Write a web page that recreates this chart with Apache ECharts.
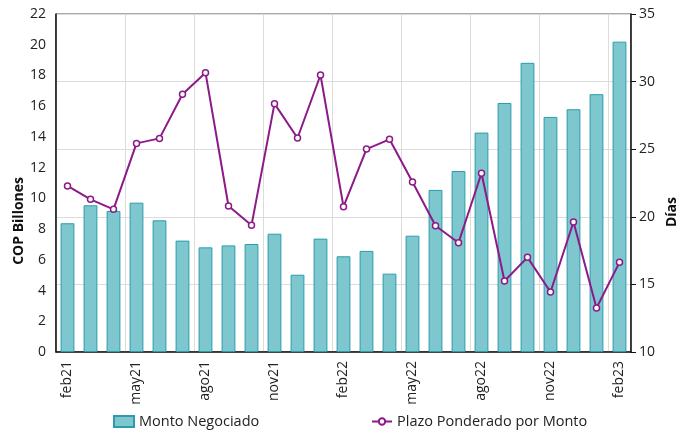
<!DOCTYPE html>
<html>
<head>
<meta charset="utf-8">
<script src="https://cdn.jsdelivr.net/npm/echarts@6/dist/echarts.min.js"></script>
<style>
  html, body { margin: 0; padding: 0; background: #fff; }
  #chart { width: 680px; height: 431px; }
</style>
</head>
<body>
<div id="chart"></div>
<script>
const months = ['feb21', 'mar21', 'abr21', 'may21', 'jun21', 'jul21', 'ago21', 'sep21', 'oct21',
  'nov21', 'dic21', 'ene22', 'feb22', 'mar22', 'abr22', 'may22', 'jun22', 'jul22', 'ago22',
  'sep22', 'oct22', 'nov22', 'dic22', 'ene23', 'feb23'];

// COP billones
const montoNegociado = [8.38, 9.55, 9.18, 9.72, 8.57, 7.25, 6.81, 6.94, 7.03, 7.70, 5.03, 7.38,
  6.23, 6.58, 5.10, 7.57, 10.55, 11.78, 14.28, 16.21, 18.82, 15.30, 15.80, 16.78, 20.20];

// días
const plazoPonderado = [22.28, 21.29, 20.55, 25.43, 25.80, 29.06, 30.66, 20.80, 19.37, 28.37,
  25.83, 30.49, 20.75, 25.01, 25.73, 22.57, 19.34, 18.08, 23.22, 15.25, 17.00, 14.44, 19.62,
  13.25, 16.63];

const font = 'Open Sans';

const chart = echarts.init(document.getElementById('chart'));
const options = {
  animation: false,
  textStyle: { fontFamily: font },
  grid: {
    left: 56,
    right: 49,
    top: 14,
    bottom: 79,
    show: true,
    borderColor: '#555',
    borderWidth: 1
  },
  legend: [
    {
      left: 108,
      bottom: -3,
      itemWidth: 20,
      itemHeight: 11,
      textStyle: { fontSize: 14.5, color: '#222', fontFamily: font },
      data: [{ name: 'Monto Negociado', icon: 'rect' }]
    },
    {
      left: 366,
      bottom: -3,
      itemWidth: 20,
      itemHeight: 8,
      textStyle: { fontSize: 14.5, color: '#222', fontFamily: font },
      data: ['Plazo Ponderado por Monto']
    }
  ],
  xAxis: {
    type: 'category',
    data: months,
    axisLine: { lineStyle: { color: '#111', width: 1.5 } },
    axisTick: { show: false },
    axisLabel: { interval: 2, rotate: 90, fontSize: 14, color: '#222', margin: 9 },
    splitLine: { show: true, interval: 2, lineStyle: { color: '#dcdcdc' } }
  },
  yAxis: [
    {
      type: 'value',
      min: 0,
      max: 22,
      interval: 2,
      axisLine: { show: true, lineStyle: { color: '#111', width: 1.5 } },
      axisTick: { show: false },
      axisLabel: { fontSize: 14, color: '#222', margin: 10 },
      splitLine: { show: false }
    },
    {
      type: 'value',
      min: 10,
      max: 35,
      interval: 5,
      axisLine: { show: true, lineStyle: { color: '#111', width: 1.5 } },
      axisTick: { show: true, length: 5, lineStyle: { color: '#111' } },
      axisLabel: { fontSize: 14, color: '#222', margin: 8 },
      splitLine: { show: true, lineStyle: { color: '#dcdcdc' } }
    }
  ],
  graphic: [
    {
      type: 'text',
      left: 12,
      top: 177,
      rotation: Math.PI / 2,
      style: { text: 'COP Billones', font: 'bold 14px "Open Sans"', fill: '#111' }
    },
    {
      type: 'text',
      left: 665,
      top: 197,
      rotation: Math.PI / 2,
      style: { text: 'Días', font: 'bold 14px "Open Sans"', fill: '#111' }
    }
  ],
  series: [
    {
      name: 'Monto Negociado',
      type: 'bar',
      barWidth: '60%',
      data: montoNegociado,
      itemStyle: { color: '#7fc7cf', borderColor: '#2a9dac', borderWidth: 1 }
    },
    {
      name: 'Plazo Ponderado por Monto',
      type: 'line',
      yAxisIndex: 1,
      data: plazoPonderado,
      symbol: 'circle',
      symbolSize: 6,
      lineStyle: { color: '#8c1a88', width: 2 },
      itemStyle: { color: '#fff', borderColor: '#8c1a88', borderWidth: 1.5 }
    }
  ]
};
chart.setOption(options);
</script>
</body>
</html>
